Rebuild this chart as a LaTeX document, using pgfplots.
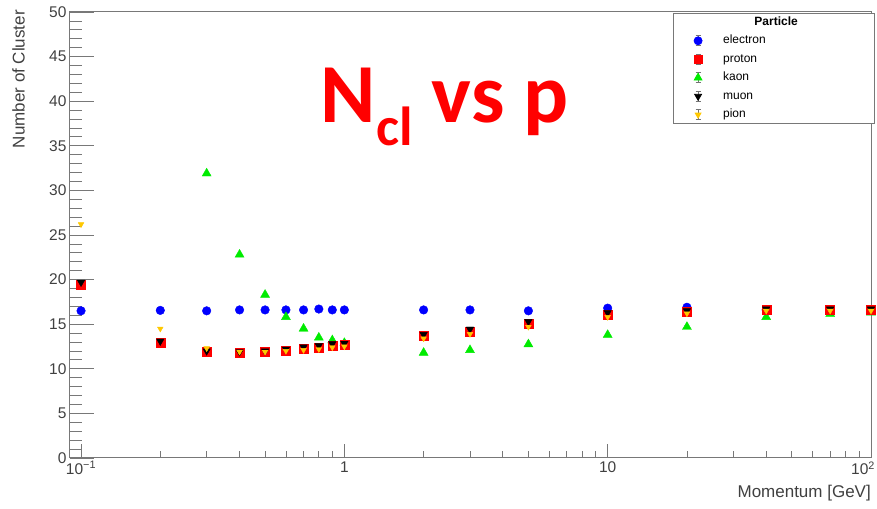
\documentclass[border=0pt]{standalone}
\usepackage{fontspec}
\setmainfont{Liberation Sans}
\newfontfamily\carlito{Carlito}
\usepackage{pgfplots}
\pgfplotsset{compat=1.18}
\definecolor{kaoncol}{RGB}{0,235,0}
\definecolor{pioncol}{RGB}{255,200,0}
\definecolor{axgray}{RGB}{120,120,120}

\begin{document}
\begin{tikzpicture}
\begin{axis}[
    scale only axis,
    width=801pt, height=446pt,
    xmode=log, xmin=0.0908, xmax=100,
    ymin=0, ymax=50,
    clip=false,
    xtick={0.1,1,10,100},
    xticklabels={10\textsuperscript{−1},1,10,\makebox[0pt][r]{10\textsuperscript{2}\hspace*{-4pt}}},
    minor xtick={0.2,0.3,0.4,0.5,0.6,0.7,0.8,0.9,2,3,4,5,6,7,8,9,20,30,40,50,60,70,80,90},
    ytick={0,5,...,50},
    minor y tick num=4,
    tick align=inside,
    xtick pos=bottom, ytick pos=left,
    axis line style={axgray, line width=1pt},
    every tick/.style={axgray, line width=0.8pt},
    xtick style={/pgfplots/major tick length=14pt, /pgfplots/minor tick length=7pt},
    ytick style={/pgfplots/major tick length=24pt, /pgfplots/minor tick length=12pt},
    tick label style={font=\fontsize{15.5}{17}\selectfont, black!75},
    /pgf/number format/assume math mode=true,
    xlabel={Momentum [GeV]},
    ylabel={Number of Cluster},
    label style={font=\fontsize{17}{20}\selectfont, black!75, inner sep=0pt},
    xlabel style={at={([yshift=-27pt]rel axis cs:1,0)}, anchor=north east},
    ylabel style={at={([xshift=-58pt,yshift=2pt]rel axis cs:0,1)}, anchor=north east},
    legend style={at={(0.753,0.998)}, anchor=north west,
        draw=axgray, line width=0.8pt, fill=white,
        font=\fontsize{12}{14}\selectfont,
        inner xsep=16pt, inner ysep=3pt, row sep=6.5pt, column sep=21pt,
        nodes={inner sep=0pt, text height=9pt, text depth=3pt}},
    legend cell align=left,
    legend image code/.code={
        \draw[black!55, line width=0.6pt] (0.3cm,-5pt) -- (0.3cm,5pt)
            (0.3cm-2.5pt,-5pt) -- (0.3cm+2.5pt,-5pt)
            (0.3cm-2.5pt,5pt) -- (0.3cm+2.5pt,5pt);
        \draw[mark repeat=2,mark phase=2,#1] plot coordinates {(0cm,0cm)(0.3cm,0cm)(0.6cm,0cm)};
    },
]

% electron
\addplot[only marks, mark=*, mark size=4.3pt, blue, forget plot] coordinates {
    (0.1,16.5) (0.2,16.55) (0.3,16.5) (0.4,16.6) (0.5,16.6) (0.6,16.6)
    (0.7,16.6) (0.8,16.7) (0.9,16.6) (1,16.6) (2,16.6) (3,16.6) (5,16.5)
    (10,16.8) (20,16.9) (40,16.6) (70,16.6) (100,16.6)};
% kaon
\addplot[only marks, mark=triangle*, mark size=5.2pt, kaoncol, forget plot] coordinates {
    (0.3,31.9) (0.4,22.8) (0.5,18.3) (0.6,15.8) (0.7,14.5) (0.8,13.5)
    (0.9,13.2) (1,12.9) (2,11.8) (3,12.1) (5,12.75) (10,13.8) (20,14.7)
    (40,15.8) (70,16.15) (100,16.3)};
% proton
\addplot[only marks, mark=square*, mark size=4.5pt, red, forget plot] coordinates {
    (0.1,19.4) (0.2,12.9) (0.3,11.95) (0.4,11.8) (0.5,11.9) (0.6,12.0)
    (0.7,12.2) (0.8,12.35) (0.9,12.55) (1,12.65) (2,13.7) (3,14.2) (5,15.1)
    (10,16.1) (20,16.35) (40,16.6) (70,16.6) (100,16.6)};
% muon
\addplot[only marks, mark=triangle*, mark options={rotate=180}, mark size=4.3pt, black, forget plot] coordinates {
    (0.1,19.7) (0.2,13.1) (0.3,12.0) (0.4,11.9) (0.5,12.0) (0.6,12.2)
    (0.7,12.45) (0.8,12.6) (0.9,12.8) (1,12.85) (2,13.85) (3,14.45) (5,15.3)
    (10,16.3) (20,16.5) (40,16.7) (70,16.7) (100,16.7)};
% pion
\addplot[only marks, mark=triangle*, mark options={rotate=180}, mark size=3.3pt, pioncol, forget plot] coordinates {
    (0.1,26.2) (0.2,14.5) (0.3,12.3) (0.4,11.9) (0.5,11.9) (0.6,12.0)
    (0.7,12.1) (0.8,12.2) (0.9,12.4) (1,12.5) (2,13.4) (3,13.9) (5,14.7)
    (10,15.8) (20,16.2) (40,16.5) (70,16.5) (100,16.5)};

\addlegendimage{empty legend}
\addlegendentry{\makebox[135pt][l]{\makebox[106pt][c]{\bfseries Particle}}}
\addlegendimage{only marks, mark=*, mark size=4pt, blue}
\addlegendentry{electron}
\addlegendimage{only marks, mark=square*, mark size=4pt, red}
\addlegendentry{proton}
\addlegendimage{only marks, mark=triangle*, mark size=4.5pt, kaoncol}
\addlegendentry{kaon}
\addlegendimage{only marks, mark=triangle*, mark options={rotate=180}, mark size=4pt, black}
\addlegendentry{muon}
\addlegendimage{only marks, mark=triangle*, mark options={rotate=180}, mark size=3.3pt, pioncol}
\addlegendentry{pion}

\node[anchor=base west, text=red, inner sep=0pt,
      font=\carlito\bfseries\fontsize{84}{84}\selectfont]
    at (rel axis cs:0.313,0.753)
    {N\raisebox{-23pt}{\fontsize{55}{55}\selectfont cl} vs p};
\end{axis}
\pgfresetboundingbox
\path[use as bounding box] ([xshift=-70pt,yshift=-51pt]current axis.south west)
    rectangle ([xshift=6pt,yshift=12pt]current axis.north east);
\end{tikzpicture}
\end{document}
